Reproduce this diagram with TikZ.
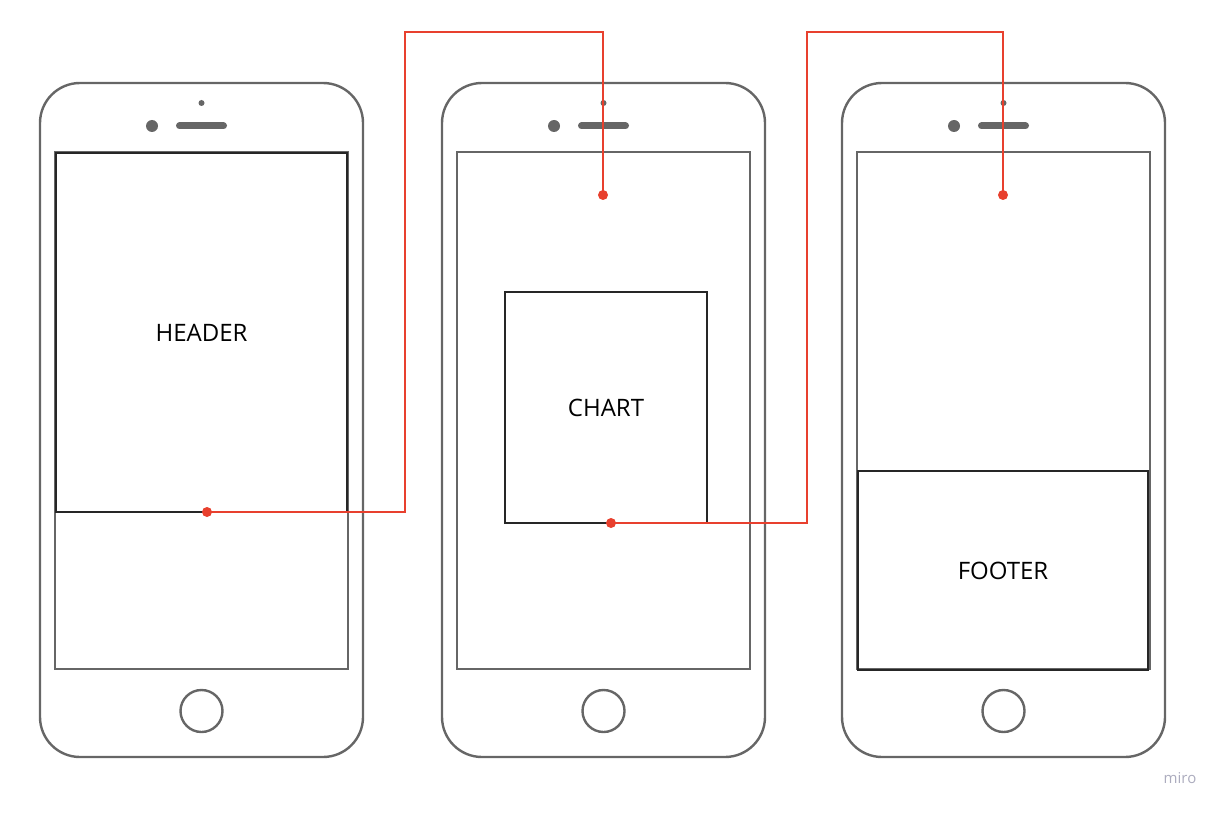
\documentclass[tikz,border=0pt]{standalone}
\usepackage{fontspec}
\setmainfont{Open Sans}
\usetikzlibrary{positioning}

\definecolor{phonegray}{HTML}{666666}
\definecolor{linkred}{HTML}{E8402E}
\definecolor{mirogray}{HTML}{ACACBE}

\begin{document}
\begin{tikzpicture}[x=1pt, y=-1pt,
  phone/.style={draw=phonegray, line width=2.4pt, rounded corners=40pt,
    minimum width=323pt, minimum height=674pt},
  screen/.style={draw=phonegray, line width=2pt, minimum width=293pt, minimum height=517pt},
  block/.style={draw=black!85, line width=1.8pt, font=\fontsize{24}{27}\selectfont},
  link/.style={draw=linkred, line width=1.3pt},
  pin/.style={circle, fill=linkred, inner sep=0pt, minimum size=10pt}]
  \useasboundingbox (0,0) rectangle (1228,813);

  % three phones
  \foreach \i/\x in {1/201.5, 2/603.5, 3/1003.5} {
    \node[phone] (Phone\i) at (\x,420) {};
    \node[screen] (Screen\i) at (\x,410.5) {};
    \fill[phonegray] (\x,103) circle (3pt);
    \fill[phonegray] (\x-49.5,126) circle (6pt);
    \draw[phonegray, line width=7pt, line cap=round] (\x-22,126) -- (\x+22,126);
    \draw[phonegray, line width=2.4pt] (\x,711) circle (21pt);
  }

  % blocks
  \node[block, minimum width=291pt, minimum height=359pt] (Header) at (201.5,332.5) {HEADER};
  \node[block, minimum width=202pt, minimum height=231pt] (Chart) at (606,407.5) {CHART};
  \node[block, minimum width=290pt, minimum height=199pt] (Footer) at (1003,570.5) {FOOTER};

  % links
  \coordinate (HeaderPin) at (207,512);
  \coordinate (ChartPin) at (611,523);
  \coordinate (ChartTop) at (603,195);
  \coordinate (FooterTop) at (1003,195);
  \coordinate (BendA) at (405,32);
  \coordinate (BendB) at (807,32);
  \path[link] (HeaderPin) -| (BendA) -| (ChartTop);
  \path[link] (ChartPin) -| (BendB) -| (FooterTop);
  \foreach \p in {HeaderPin, ChartPin, ChartTop, FooterTop}
    \node[pin] at (\p) {};

  \node[text=mirogray, font=\fontsize{15}{17}\selectfont] (Miro) at (1180,778) {miro};
\end{tikzpicture}
\end{document}
